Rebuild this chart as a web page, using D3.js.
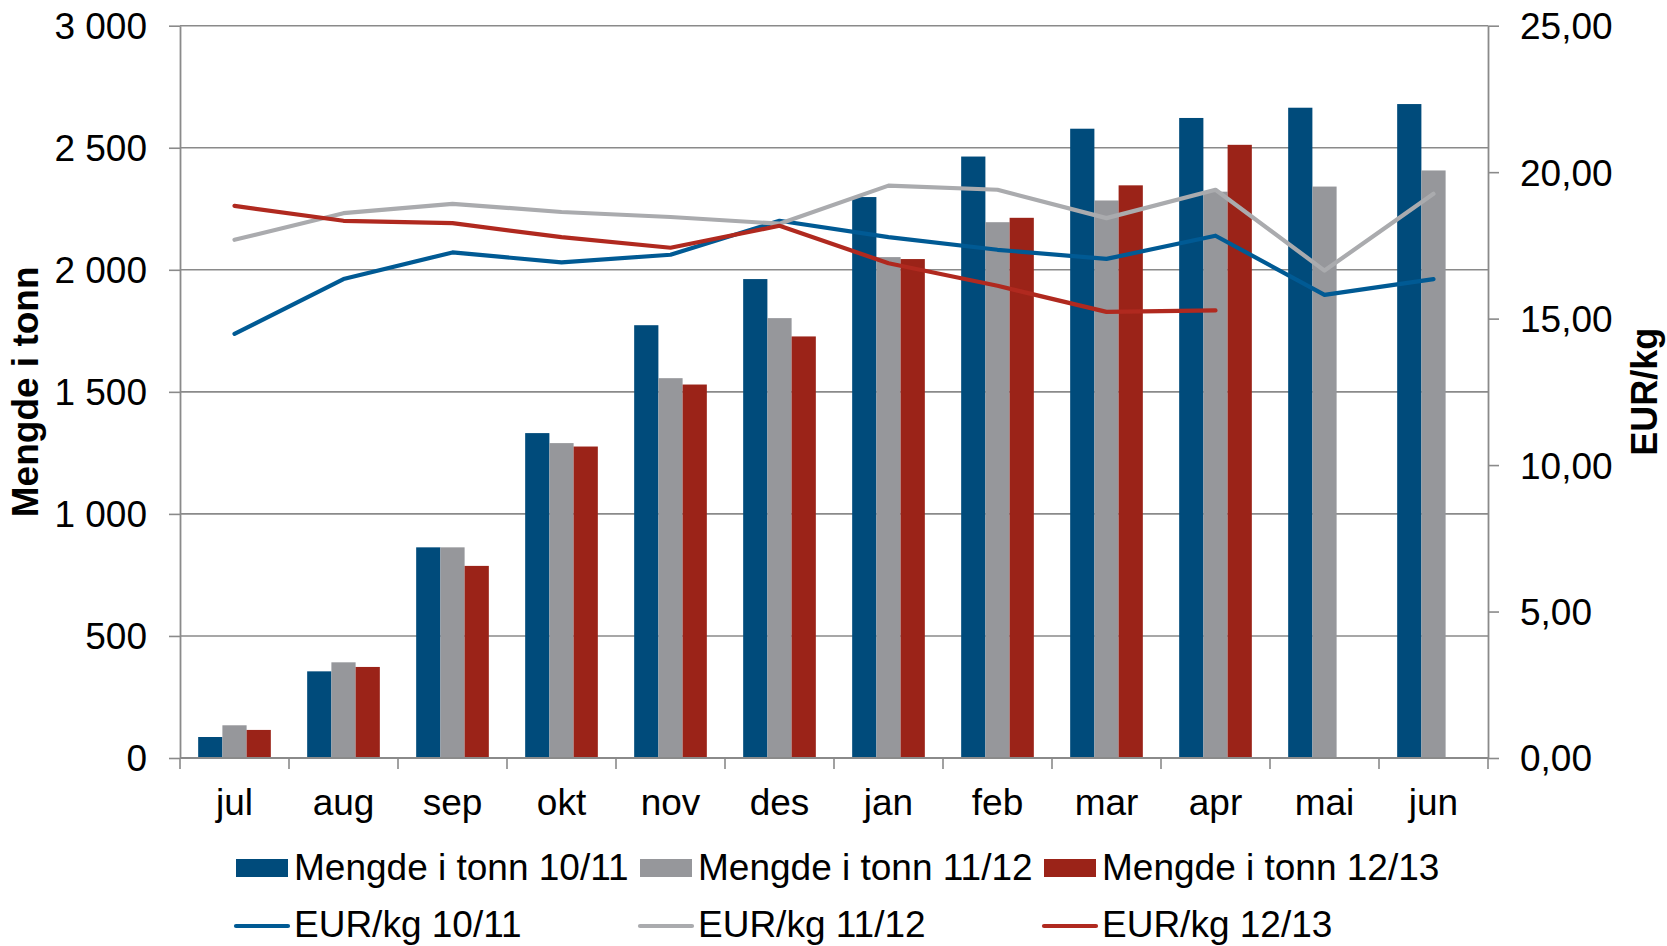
<!DOCTYPE html>
<html>
<head>
<meta charset="utf-8">
<script src="https://cdn.jsdelivr.net/npm/d3@7"></script>
<style>
  html, body { margin: 0; padding: 0; background: #fff; }
  svg { display: block; font-family: "Liberation Sans", Arial, sans-serif; }
</style>
</head>
<body>
<svg id="chart" width="1667" height="946"></svg>
<script>
// ---- data ----
const months = ["jul","aug","sep","okt","nov","des","jan","feb","mar","apr","mai","jun"];
const barSeriesNames = ["Mengde i tonn 10/11","Mengde i tonn 11/12","Mengde i tonn 12/13"];
const lineSeriesNames = ["EUR/kg 10/11","EUR/kg 11/12","EUR/kg 12/13"];
const tonn1011 = [86, 355, 863, 1331, 1773, 1962, 2298, 2464, 2578, 2622, 2664, 2679];
const tonn1112 = [134, 392, 863, 1290, 1556, 1802, 2052, 2195, 2284, 2320, 2341, 2407];
const tonn1213 = [115, 373, 787, 1276, 1530, 1727, 2044, 2213, 2346, 2512, null, null];
const eur1011 = [14.48, 16.35, 17.26, 16.92, 17.18, 18.34, 17.78, 17.35, 17.04, 17.83, 15.81, 16.35];
const eur1112 = [17.69, 18.60, 18.92, 18.64, 18.47, 18.24, 19.54, 19.40, 18.43, 19.40, 16.64, 19.26];
const eur1213 = [18.85, 18.34, 18.26, 17.78, 17.42, 18.17, 16.89, 16.12, 15.23, 15.28, null, null];
const leftTicks = [0, 500, 1000, 1500, 2000, 2500, 3000];
const rightTicks = [0, 5, 10, 15, 20, 25];
const leftTitle = "Mengde i tonn";
const rightTitle = "EUR/kg";

// ---- styling ----
const barColors = ["#004B7B", "#96979B", "#9B2318"];
const lineColors = ["#005A94", "#AAABAE", "#B0291F"];
const gridColor = "#8a8a8a";
const FS = 37;

const barData = [tonn1011, tonn1112, tonn1213];
const lineData = [eur1011, eur1112, eur1213];

const svg = d3.select("#chart");
const L = 180, R = 1488, T = 25.7, B = 758;

const x = d3.scaleBand().domain(months).range([L, R]).paddingInner(0).paddingOuter(0);
const xs = d3.scaleBand().domain([0,1,2]).range([0, x.bandwidth()]).paddingInner(0).paddingOuter(0.75);
const yL = d3.scaleLinear().domain([0, 3000]).range([B, T]);
const yR = d3.scaleLinear().domain([0, 25]).range([B, T]);

const loc = d3.formatLocale({decimal: ",", thousands: " ", grouping: [3], currency: ["", ""]});
const fmtL = loc.format(",d");
const fmtR = loc.format(",.2f");

// gridlines
svg.append("g").selectAll("line").data(leftTicks.filter(d => d > 0)).join("line")
  .attr("x1", L).attr("x2", R)
  .attr("y1", d => yL(d)).attr("y2", d => yL(d))
  .attr("stroke", gridColor).attr("stroke-width", 1.6);

// bars
barData.forEach((vals, si) => {
  svg.append("g").selectAll("rect").data(months.map((m, i) => ({m, v: vals[i]})).filter(d => d.v != null))
    .join("rect")
    .attr("x", d => x(d.m) + xs(si))
    .attr("width", xs.bandwidth())
    .attr("y", d => yL(d.v))
    .attr("height", d => B - yL(d.v))
    .attr("fill", barColors[si]);
});

// lines
lineData.forEach((vals, si) => {
  const line = d3.line()
    .defined(d => d.v != null)
    .x(d => x(d.m) + x.bandwidth() / 2)
    .y(d => yR(d.v));
  svg.append("path")
    .datum(months.map((m, i) => ({m, v: vals[i]})))
    .attr("d", line)
    .attr("fill", "none")
    .attr("stroke", lineColors[si])
    .attr("stroke-width", 4.2)
    .attr("stroke-linejoin", "round")
    .attr("stroke-linecap", "round");
});

// axes
function styleAxis(g) {
  g.selectAll(".domain").attr("stroke", gridColor).attr("stroke-width", 1.8);
  g.selectAll(".tick line").attr("stroke", gridColor).attr("stroke-width", 1.6);
  g.selectAll(".tick text").attr("fill", "#000").attr("font-size", FS)
    .attr("font-family", '"Liberation Sans", Arial, sans-serif');
}

const axL = svg.append("g").attr("transform", `translate(${L},0)`)
  .call(d3.axisLeft(yL).tickValues(leftTicks).tickFormat(fmtL).tickSize(11).tickSizeOuter(0).tickPadding(22));
styleAxis(axL);
axL.selectAll(".tick text").attr("dy", "0.35em");

const axR = svg.append("g").attr("transform", `translate(${R},0)`)
  .call(d3.axisRight(yR).tickValues(rightTicks).tickFormat(fmtR).tickSize(11).tickSizeOuter(0).tickPadding(21));
styleAxis(axR);
axR.selectAll(".tick text").attr("dy", "0.35em");

// bottom axis: ticks at category boundaries
const axB = svg.append("g").attr("transform", `translate(0,${B})`);
axB.append("line").attr("x1", L).attr("x2", R).attr("y1", 0).attr("y2", 0)
  .attr("stroke", gridColor).attr("stroke-width", 1.8);
const bounds = months.map(m => x(m)).concat([R]);
axB.selectAll("line.tk").data(bounds).join("line").attr("class", "tk")
  .attr("x1", d => d).attr("x2", d => d).attr("y1", 0).attr("y2", 11)
  .attr("stroke", gridColor).attr("stroke-width", 1.6);
axB.selectAll("text").data(months).join("text")
  .attr("x", d => x(d) + x.bandwidth() / 2)
  .attr("y", 57)
  .attr("text-anchor", "middle")
  .attr("font-size", FS)
  .text(d => d);

// axis titles
svg.append("text")
  .attr("transform", `translate(38,${(T + B) / 2}) rotate(-90)`)
  .attr("text-anchor", "middle")
  .attr("font-weight", "bold")
  .attr("font-size", FS)
  .text(leftTitle);
svg.append("text")
  .attr("transform", `translate(1657,${(T + B) / 2}) rotate(-90)`)
  .attr("text-anchor", "middle")
  .attr("font-weight", "bold")
  .attr("font-size", 36)
  .text(rightTitle);

// legend
const legX = [236, 640, 1044];
const leg = svg.append("g");
barSeriesNames.forEach((name, i) => {
  leg.append("rect").attr("x", legX[i]).attr("y", 859).attr("width", 52).attr("height", 18)
    .attr("fill", barColors[i]);
  leg.append("text").attr("x", legX[i] + 58).attr("y", 880).attr("font-size", FS).text(name);
});
lineSeriesNames.forEach((name, i) => {
  leg.append("line").attr("x1", legX[i]).attr("x2", legX[i] + 52).attr("y1", 926).attr("y2", 926)
    .attr("stroke", lineColors[i]).attr("stroke-width", 4.2).attr("stroke-linecap", "round");
  leg.append("text").attr("x", legX[i] + 58).attr("y", 937).attr("font-size", FS).text(name);
});
</script>
</body>
</html>
